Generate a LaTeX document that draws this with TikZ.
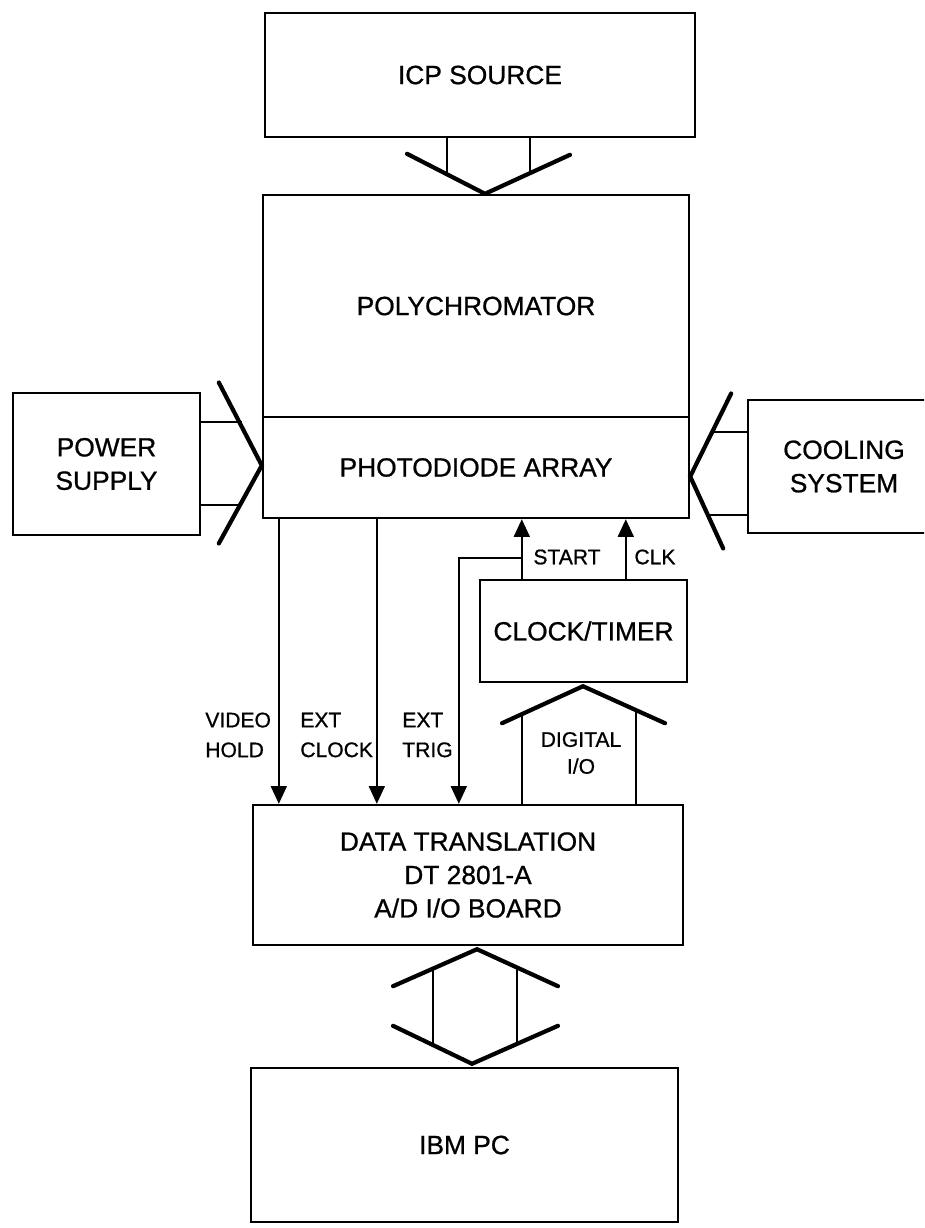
\documentclass[tikz,border=0pt]{standalone}
\usepackage{fontspec}
\setmainfont{Liberation Sans}[FakeBold=0.8]
\usetikzlibrary{positioning, arrows.meta, calc}

\begin{document}
\begin{tikzpicture}[
        x=0.02cm, y=-0.02cm,
        node distance=0cm and 0cm,
        box/.style={draw, rectangle, line width=1.4pt, align=center, inner sep=0pt, font=\fontsize{15}{19}\selectfont},
        bus/.style={line width=1.1pt},
        chev/.style={line width=2.4pt, line cap=round},
        sig/.style={line width=1.1pt, -{Triangle[length=10pt, width=9pt]}},
        siglabel/.style={inner sep=0pt, font=\fontsize{12}{17}\selectfont}
    ]
    \useasboundingbox (0,0) rectangle (924,1228);
    \clip (0,0) rectangle (924,1228);

    % Blocks
    \node[box, minimum width=8.6cm,  minimum height=2.48cm] (icp)     at (480,75)    {ICP SOURCE};
    \node[box, minimum width=8.52cm, minimum height=4.44cm] (poly)    at (476,306)   {POLYCHROMATOR};
    \node[box, minimum width=8.52cm, minimum height=2.02cm, below=-1.4pt of poly] (pda) {PHOTODIODE ARRAY};
    \node[box, minimum width=3.74cm, minimum height=2.84cm] (power)   at (106.5,464) {POWER\\SUPPLY};
    \node[box, minimum width=3.84cm, minimum height=2.66cm] (cooling) at (844,466.5) {COOLING\\SYSTEM};
    \node[box, minimum width=4.14cm, minimum height=2.04cm] (clock)   at (583.5,631) {CLOCK/TIMER};
    \node[box, minimum width=8.6cm,  minimum height=2.8cm]  (dt)      at (468,875)   {DATA TRANSLATION\\DT 2801-A\\A/D I/O BOARD};
    \node[box, minimum width=8.54cm, minimum height=3.08cm] (pc)      at (464.5,1145) {IBM PC};

    % ICP source -> polychromator
    \coordinate (ta) at ($(poly.north)+(9,0)$);
    \draw[chev] ($(ta)+(-78,-40)$) -- (ta) -- ($(ta)+(85,-39)$);
    \draw[bus] ($(icp.south)+(-33,0)$) -- ++(0,37);
    \draw[bus] ($(icp.south)+(50,0)$) -- ++(0,36);

    % Power supply -> photodiode array
    \coordinate (pa) at ($(pda.west)+(0,-2)$);
    \draw[chev] ($(pa)+(-43,-83)$) -- (pa) -- ($(pa)+(-43,78)$);
    \draw[bus] ($(power.east)+(0,-42)$) -- ++(41,0);
    \draw[bus] ($(power.east)+(0,41)$) -- ++(41,0);

    % Cooling system -> photodiode array
    \coordinate (ca) at ($(pda.east)+(0,9)$);
    \draw[chev] ($(ca)+(41,-83)$) -- (ca) -- ($(ca)+(33,72)$);
    \draw[bus] ($(cooling.west)+(0,-34.5)$) -- ++(-37,0);
    \draw[bus] ($(cooling.west)+(0,48.5)$) -- ++(-41,0);

    % Signals
    \draw[sig] ($(pda.south west)+(17,0)$) coordinate (vh) -- (vh |- dt.north);
    \draw[sig] ($(pda.south west)+(115,0)$) coordinate (ec) -- (ec |- dt.north);
    \draw[sig] ($(clock.north west)+(43,0)$) coordinate (st) -- (st |- pda.south);
    \draw[sig] ($(clock.north west)+(147,0)$) coordinate (ck) -- (ck |- pda.south);
    \draw[sig] ($(st)+(0,-21)$) -| ($(dt.north west)+(207,0)$);

    % Signal labels
    \node[siglabel, anchor=west, align=left] (lvideo)   at (205,735) {VIDEO\\HOLD};
    \node[siglabel, anchor=west, align=left] (lextclk)  at (300,735) {EXT\\CLOCK};
    \node[siglabel, anchor=west, align=left] (lexttrig) at (402,735) {EXT\\TRIG};
    \node[siglabel] (lstart) at (567,557) {START};
    \node[siglabel] (lclk)   at (655,557) {CLK};

    % Digital I/O -> clock/timer
    \coordinate (da) at ($(clock.south)+(-0.5,3)$);
    \draw[chev] ($(da)+(-81,37)$) -- (da) -- ($(da)+(82,37)$);
    \draw[bus] ($(dt.north west)+(270,0)$) -- ++(0,-92);
    \draw[bus] ($(dt.north west)+(384,0)$) -- ++(0,-96);
    \node[siglabel, align=center, font=\fontsize{12}{15.3}\selectfont] (ldigio) at (581,753) {DIGITAL\\I/O};

    % A/D board <-> IBM PC
    \coordinate (ba) at ($(dt.south)+(9,3)$);
    \coordinate (pb) at ($(pc.north)+(7.5,-3)$);
    \draw[chev] ($(ba)+(-84,37)$) -- (ba) -- ($(ba)+(81,37)$);
    \draw[chev] ($(pb)+(-79,-38)$) -- (pb) -- ($(pb)+(86,-38)$);
    \draw[bus] ($(ba)+(-44,19)$) -- ++(0,79);
    \draw[bus] ($(ba)+(40,18)$) -- ++(0,79);

\end{tikzpicture}
\end{document}
